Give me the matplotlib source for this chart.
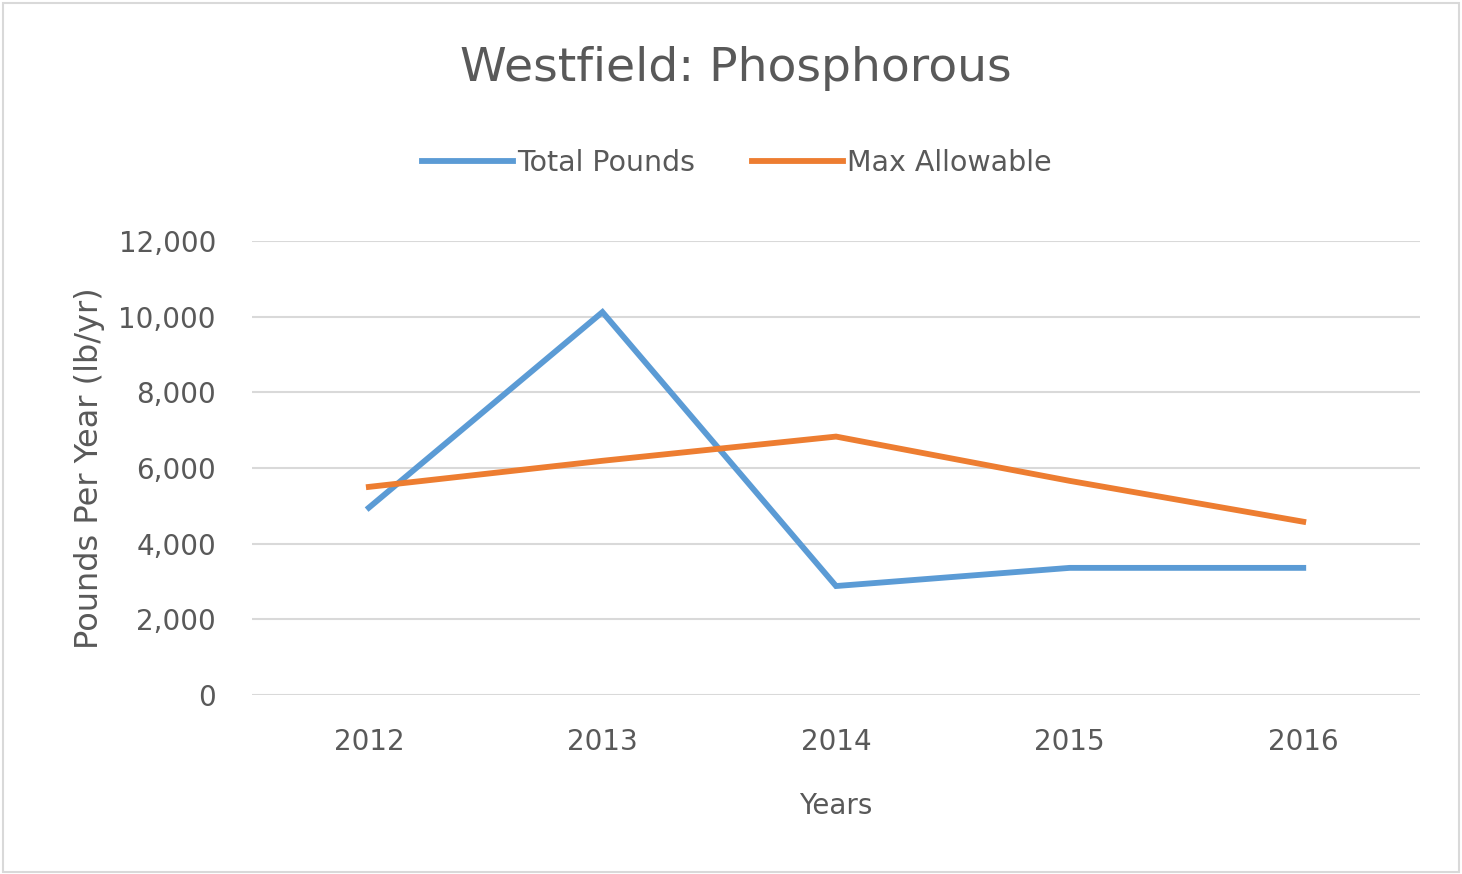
import matplotlib.pyplot as plt
from matplotlib.patches import Rectangle
from matplotlib.ticker import FuncFormatter

years = ['2012', '2013', '2014', '2015', '2016']
total_pounds = [4950, 10120, 2880, 3360, 3360]
max_allowable = [5500, 6190, 6830, 5660, 4580]

blue = '#5B9BD5'
orange = '#ED7D31'
text_col = '#595959'

fig = plt.figure(figsize=(14.62, 8.74), dpi=100)
ax = fig.add_axes([0.1724, 0.2048, 0.7989, 0.5195])

x = range(len(years))
ax.plot(x, total_pounds, color=blue, lw=4.2, label='Total Pounds',
        solid_joinstyle='miter')
ax.plot(x, max_allowable, color=orange, lw=4.2, label='Max Allowable',
        solid_joinstyle='miter')

ax.set_xlim(-0.5, len(years) - 0.5)
ax.set_ylim(0, 12000)
ax.set_yticks(range(0, 12001, 2000))
ax.yaxis.set_major_formatter(FuncFormatter(lambda v, p: f'{int(v):,}'))
ax.set_xticks(list(x))
ax.set_xticklabels(years)
ax.grid(axis='y', color='#D9D9D9', lw=1.5)
ax.set_axisbelow(True)
for s in ax.spines.values():
    s.set_visible(False)
ax.tick_params(length=0, labelsize=20, colors=text_col)
ax.tick_params(axis='y', pad=26)
ax.tick_params(axis='x', pad=24)

ax.set_ylabel('Pounds Per Year (lb/yr)', fontsize=23, color=text_col,
              labelpad=10)
ax.set_xlabel('Years', fontsize=20, color=text_col, labelpad=26)

fig.text(0.503, 0.922, 'Westfield: Phosphorous', ha='center', va='center',
         fontsize=34, color=text_col)

fig.legend(loc='center', bbox_to_anchor=(0.504, 0.814), ncol=2, frameon=False,
           fontsize=20.5, labelcolor=text_col, handlelength=3.2,
           handletextpad=0.15, columnspacing=2.0)

fig.patches.append(Rectangle((0.002, 0.002), 0.996, 0.994,
                             transform=fig.transFigure, fill=False,
                             edgecolor='#D9D9D9', lw=1.5))

fig.savefig('out.png', dpi=100)
